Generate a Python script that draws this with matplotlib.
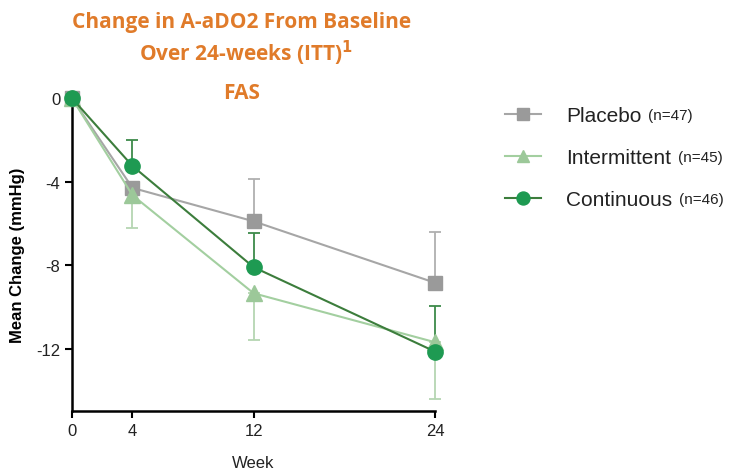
import matplotlib.pyplot as plt

weeks = [0, 4, 12, 24]
placebo = [0, -4.3, -5.9, -8.85]
placebo_err = [0, 0, 2.05, 2.45]
intermittent = [0, -4.65, -9.35, -11.7]
intermittent_err = [0, 1.55, 2.25, 2.7]
continuous = [0, -3.25, -8.1, -12.15]
continuous_err = [0, 1.25, 1.65, 2.2]
ns = ["(n=47)", "(n=45)", "(n=46)"]

plt.rcParams['font.family'] = ['Liberation Sans', 'DejaVu Sans']

fig = plt.figure(figsize=(7.34, 4.77), dpi=100)
ax = fig.add_axes([0.098, 0.136, 0.495, 0.656])

# one-sided error bars
ax.errorbar(weeks, placebo, yerr=[[0] * 4, placebo_err], fmt='none', ecolor='#b0b0b0',
            elinewidth=1.3, capsize=4, capthick=1.3, clip_on=False, zorder=2)
ax.errorbar(weeks, intermittent, yerr=[intermittent_err, [0] * 4], fmt='none', ecolor='#b5d6b2',
            elinewidth=1.3, capsize=4, capthick=1.3, clip_on=False, zorder=2)
ax.errorbar(weeks, continuous, yerr=[[0] * 4, continuous_err], fmt='none', ecolor='#3d8a4a',
            elinewidth=1.3, capsize=4, capthick=1.3, clip_on=False, zorder=2)

l1, = ax.plot(weeks, placebo, color='#a6a6a6', lw=1.5, marker='s', ms=10,
              mfc='#9a9a9a', mec='#9a9a9a', clip_on=False, zorder=3)
l2, = ax.plot(weeks, intermittent, color='#a3cfa0', lw=1.5, marker='^', ms=11,
              mfc='#9cc899', mec='#9cc899', clip_on=False, zorder=4)
l3, = ax.plot(weeks, continuous, color='#3c7d3c', lw=1.5, marker='o', ms=11,
              mfc='#1e9a52', mec='#1e9a52', clip_on=False, zorder=5)

ax.set_xlim(0, 24)
ax.set_ylim(-15, 0)
ax.set_xticks(weeks)
ax.set_yticks([0, -4, -8, -12])
ax.set_yticklabels(['0', '-4', '-8', '-12'])
ax.tick_params(labelsize=12, width=1.5, length=5, color='black', labelcolor='#222222')
for s in ['top', 'right']:
    ax.spines[s].set_visible(False)
for s in ['left', 'bottom']:
    ax.spines[s].set_linewidth(1.8)
ax.set_xlabel('Week', fontsize=12, labelpad=12, color='#222222')
ax.set_ylabel('Mean Change (mmHg)', fontsize=12, fontweight='bold', labelpad=8)

orange = '#e07b2a'
title_font = ['Open Sans', 'DejaVu Sans']
fig.text(0.329, 0.952, 'Change in A-aDO2 From Baseline', ha='center', va='center',
         fontsize=15, fontweight='bold', color=orange, family=title_font)
fig.text(0.335, 0.888, r'Over 24-weeks (ITT)$^\mathbf{1}$', ha='center', va='center',
         fontsize=15, fontweight='bold', color=orange, family=title_font)
fig.text(0.329, 0.805, 'FAS', ha='center', va='center',
         fontsize=15, fontweight='bold', color=orange, family=title_font)

leg = fig.legend([l1, l2, l3], ['Placebo', 'Intermittent', 'Continuous'],
                 loc='upper left', bbox_to_anchor=(0.662, 0.815), frameon=False,
                 fontsize=15, handlelength=1.75, labelspacing=1.1, handletextpad=1.2,
                 markerscale=0.85)
for t in leg.get_texts():
    t.set_color('#222222')
fig.canvas.draw()
inv = fig.transFigure.inverted()
for txt, n in zip(leg.get_texts(), ns):
    bb = txt.get_window_extent()
    x1, y0 = inv.transform((bb.x1, (bb.y0 + bb.y1) / 2))
    fig.text(x1 + 0.009, y0, n, ha='left', va='center', fontsize=11, color='#222222')

fig.savefig('out.png', dpi=100)
